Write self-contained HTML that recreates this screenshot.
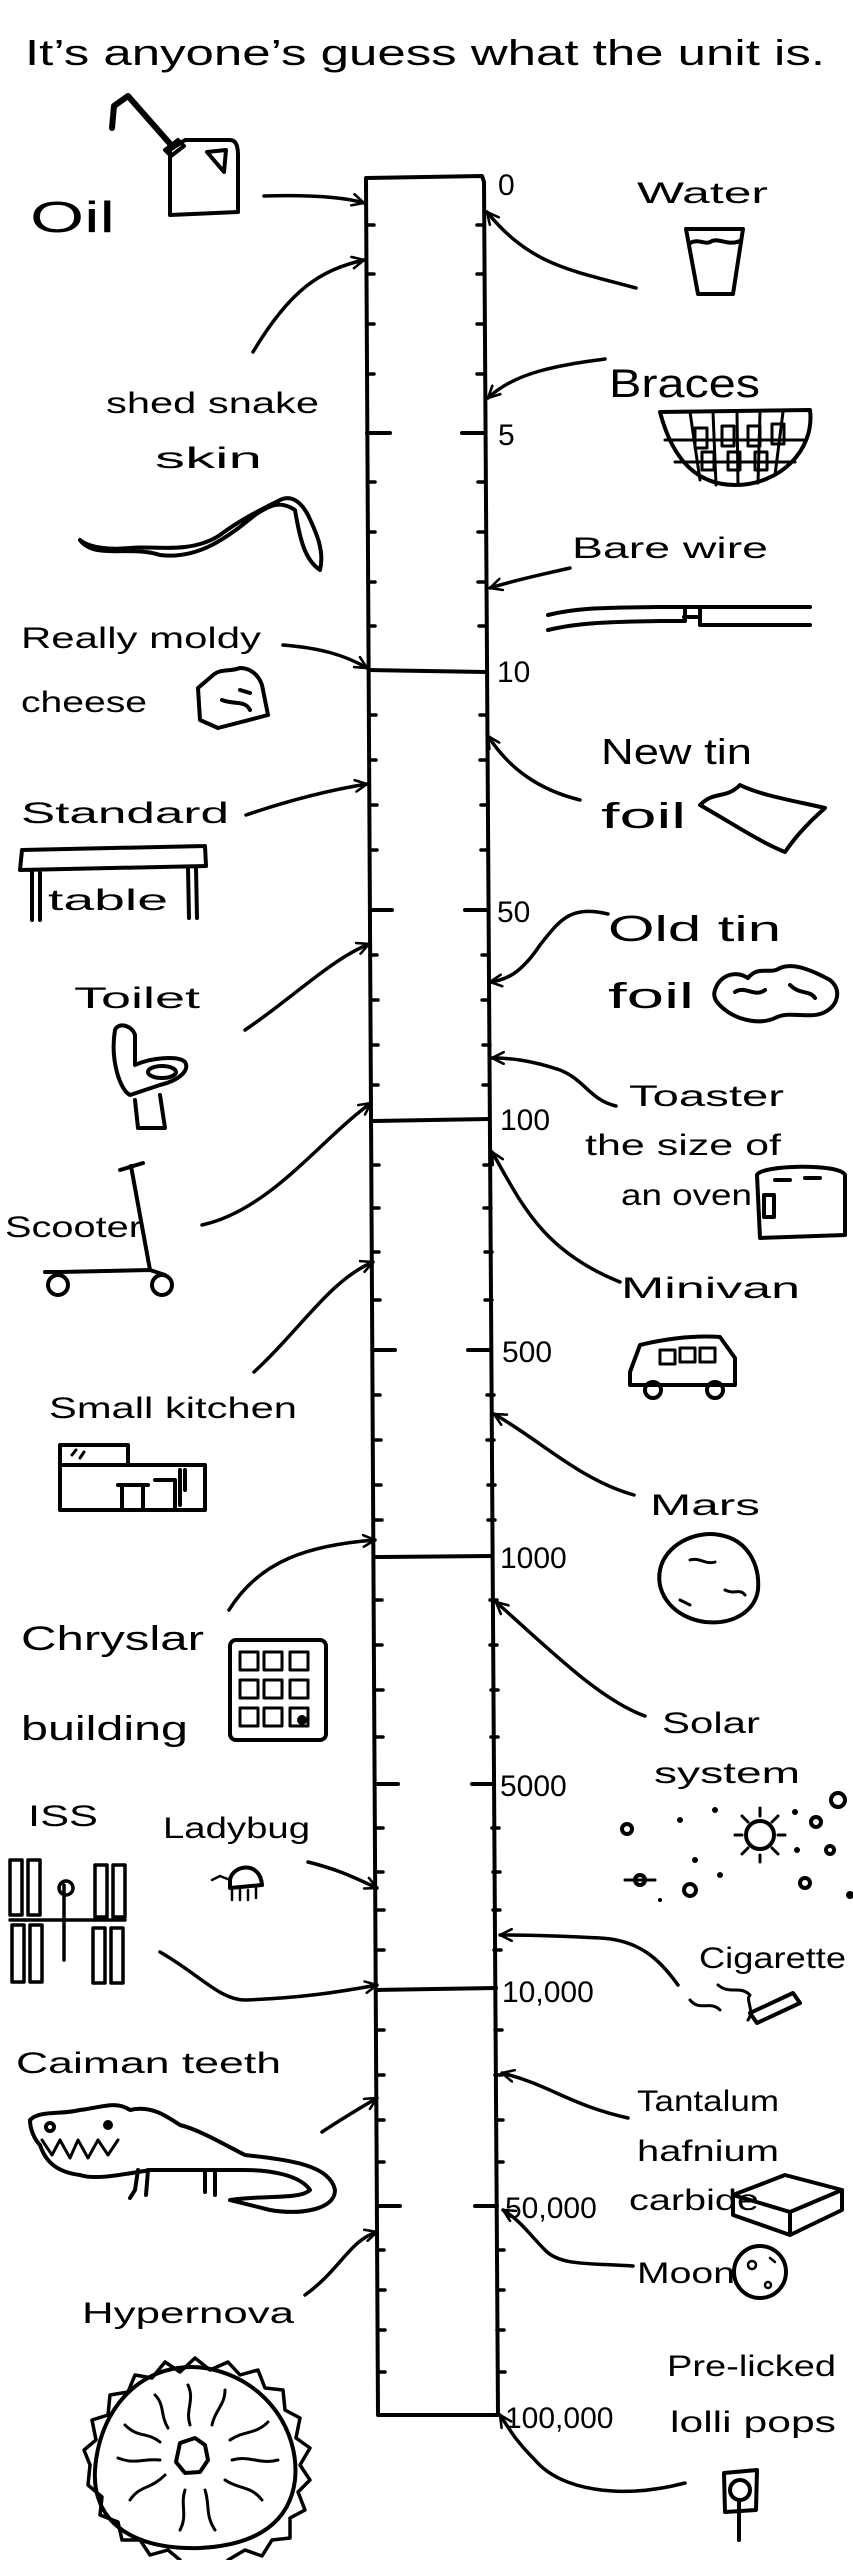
<!DOCTYPE html>
<html><head><meta charset="utf-8"><style>
html,body{margin:0;padding:0;background:#fff}
svg{display:block}
text{font-family:"Liberation Sans",sans-serif;fill:#000}
</style></head><body>
<svg width="853" height="2560" viewBox="0 0 853 2560" xmlns="http://www.w3.org/2000/svg">
<defs>
<marker id="a" viewBox="0 0 12 12" refX="11" refY="6" markerWidth="14" markerHeight="14" markerUnits="userSpaceOnUse" orient="auto">
<path d="M1,1 L11,6 L1,11" fill="none" stroke="#000" stroke-width="2.2" stroke-linecap="round"/>
</marker>
</defs>
<g fill="none" stroke="#000" stroke-width="4" stroke-linecap="round" stroke-linejoin="round">
<!-- ruler -->
<path d="M366,182 L366,178 L482,176 L484,182 L498,2415 L378,2415 Z"/>
<path d="M369,670 L486,672 M372,1121 L489,1119 M375,1557 L492,1556 M377,1990 L496,1988"/>
<path d="M367,433 L390,433 M462,433 L485,433 M370,910 L392,910 M465,910 L487,910 M373,1350 L395,1350 M468,1350 L491,1350 M376,1784 L398,1784 M472,1784 L494,1784 M377,2206 L400,2206 M475,2206 L497,2206"/>
<path stroke-width="3.5" d="
M367,225 L374,225 M477,225 L484,225
M367,274 L374,274 M477,274 L484,274
M367,324 L374,324 M477,324 L484,324
M367,374 L374,374 M477,374 L484,374
M368,482 L375,482 M478,482 L485,482
M368,532 L375,532 M478,532 L485,532
M368,582 L375,582 M478,582 L485,582
M368,626 L375,626 M479,626 L486,626
M369,715 L376,715 M480,715 L487,715
M369,760 L376,760 M480,760 L487,760
M370,805 L377,805 M481,805 L488,805
M370,850 L377,850 M481,850 L488,850
M370,955 L377,955 M482,955 L489,955
M371,1000 L378,1000 M482,1000 L489,1000
M371,1045 L378,1045 M483,1045 L490,1045
M371,1085 L378,1085 M483,1085 L490,1085
M372,1165 L379,1165 M484,1165 L491,1165
M372,1208 L379,1208 M484,1208 L491,1208
M372,1252 L379,1252 M485,1252 L492,1252
M373,1300 L380,1300 M485,1300 L492,1300
M373,1395 L380,1395 M487,1395 L494,1395
M374,1440 L381,1440 M487,1440 L494,1440
M374,1485 L381,1485 M488,1485 L495,1485
M375,1520 L382,1520 M488,1520 L495,1520
M375,1600 L382,1600 M490,1600 L497,1600
M375,1645 L382,1645 M490,1645 L497,1645
M376,1690 L383,1690 M491,1690 L498,1690
M376,1737 L383,1737 M491,1737 L498,1737
M376,1828 L383,1828 M492,1828 L499,1828
M376,1872 L383,1872 M493,1872 L500,1872
M377,1910 L384,1910 M493,1910 L500,1910
M377,1950 L384,1950 M494,1950 L501,1950
M377,2030 L384,2030 M495,2030 L502,2030
M377,2075 L384,2075 M495,2075 L502,2075
M377,2120 L384,2120 M496,2120 L503,2120
M377,2162 L384,2162 M496,2162 L503,2162
M377,2250 L384,2250 M497,2250 L504,2250
M378,2290 L385,2290 M497,2290 L504,2290
M378,2330 L385,2330 M497,2330 L504,2330
M378,2372 L385,2372 M498,2372 L505,2372"/>

<!-- arrows left -->
<g marker-end="url(#a)" stroke-width="3.5">
<path d="M264,196 C300,195 340,196 364,203"/>
<path d="M253,352 C290,290 320,270 364,260"/>
<path d="M283,645 C320,648 345,655 367,668"/>
<path d="M246,815 C290,800 330,790 367,784"/>
<path d="M245,1030 C290,1000 330,960 369,944"/>
<path d="M202,1225 C270,1210 320,1140 371,1103"/>
<path d="M254,1372 C300,1330 330,1280 373,1262"/>
<path d="M229,1610 C260,1560 310,1545 375,1540"/>
<path d="M160,1952 C200,1975 220,2000 245,2000 C300,1998 340,1992 377,1985"/>
<path d="M308,1862 C340,1870 355,1878 377,1888"/>
<path d="M322,2132 C340,2120 360,2108 377,2098"/>
<path d="M305,2295 C340,2270 350,2240 377,2232"/>
</g>
<!-- arrows right -->
<g marker-end="url(#a)" stroke-width="3.5">
<path d="M636,288 C570,270 530,265 487,212"/>
<path d="M605,359 C560,365 515,372 488,398"/>
<path d="M570,568 C540,575 515,580 490,588"/>
<path d="M580,800 C540,790 510,770 488,736"/>
<path d="M608,914 C570,905 560,920 540,945 C520,975 505,980 490,982"/>
<path d="M616,1106 C590,1100 585,1080 560,1070 C530,1060 510,1058 492,1058"/>
<path d="M620,1282 C540,1250 520,1200 492,1152"/>
<path d="M634,1495 C580,1480 540,1440 494,1414"/>
<path d="M645,1716 C600,1700 550,1650 496,1602"/>
<path d="M678,1985 C660,1960 640,1940 600,1938 C560,1936 530,1935 500,1935"/>
<path d="M628,2118 C570,2105 550,2085 502,2073"/>
<path d="M633,2266 C590,2263 560,2266 545,2250 C530,2235 520,2220 503,2210"/>
<path d="M685,2483 C620,2500 560,2490 535,2460 C515,2440 510,2430 500,2415"/>
</g>

<!-- oil can -->
<path d="M170,150 L185,140 L230,140 C237,140 238,148 238,155 L238,212 L170,215 Z"/>
<path d="M207,152 L226,150 L224,172 Z"/>
<path d="M172,146 L128,96 L114,106 L112,128" stroke-width="6"/>
<path d="M165,150 L178,140 L184,146 L171,156 Z"/>

<!-- water glass -->
<path d="M686,229 L743,229 L733,294 L698,294 Z"/>
<path d="M690,243 C700,238 705,246 712,241 C720,238 728,246 740,241"/>

<!-- braces -->
<path d="M660,412 L810,410 C815,450 780,485 735,485 C690,485 670,450 660,412 Z"/>
<path d="M665,440 L805,440 M675,462 L795,462 M690,412 L700,480 M713,412 L716,485 M737,412 L738,485 M760,412 L758,483 M783,412 L775,475" stroke-width="3"/>
<path d="M695,428 h12 v20 h-12z M722,426 h12 v20 h-12z M748,426 h12 v20 h-12z M772,424 h12 v20 h-12z M702,452 h12 v18 h-12z M728,452 h12 v18 h-12z M755,452 h12 v18 h-12z" stroke-width="3"/>

<!-- bare wire -->
<path d="M548,615 C580,607 610,608 655,607 L810,607 M548,630 C580,622 615,622 660,621 L685,621 M685,607 L685,621 M684,617 L700,617 L700,625 L810,625 M700,610 L700,625"/>

<!-- snake skin -->
<path d="M80,540 C95,560 130,545 160,555 C200,560 230,535 255,515 C270,505 280,500 295,510 C300,540 305,560 320,570 C325,550 315,530 308,515 C300,500 290,495 280,500 C260,510 240,520 220,535 C190,555 150,545 130,548 C110,550 90,548 80,540"/>

<!-- cheese -->
<path d="M198,688 L212,676 C220,668 230,672 240,668 C250,668 258,674 262,685 L268,715 L218,728 L200,720 Z"/>
<path d="M222,700 C235,705 245,700 250,710 M240,690 L250,693"/>

<!-- table -->
<path d="M22,850 L205,846 M22,850 L20,870 M205,846 L206,866 M20,870 L206,866 M32,870 L32,920 M40,870 L40,920 M188,868 L189,918 M196,868 L197,918"/>

<!-- foils -->
<path d="M700,805 C715,790 725,800 740,785 C760,795 790,800 825,808 C800,830 790,845 785,852 C760,842 735,825 700,805 Z"/>
<path d="M715,990 C720,975 735,970 748,978 C758,965 770,975 780,968 C795,962 815,972 830,980 C842,990 838,1005 825,1012 C810,1020 790,1010 775,1018 C760,1025 740,1020 728,1012 C718,1005 712,998 715,990 Z"/>
<path d="M735,992 C745,985 755,998 765,990 M790,985 C800,995 810,990 815,998"/>

<!-- toilet -->
<path d="M115,1030 C110,1060 120,1090 130,1095 L160,1085 C180,1080 190,1070 185,1062 C178,1055 150,1058 135,1065 L135,1035 C132,1025 118,1022 115,1030 Z"/>
<ellipse cx="162" cy="1072" rx="14" ry="6"/>
<path d="M135,1100 L138,1128 L165,1128 L160,1095"/>

<!-- scooter -->
<path d="M120,1170 L143,1163 M131,1166 L150,1270 L60,1272 L45,1272 M150,1270 L165,1275"/>
<circle cx="58" cy="1285" r="10"/><circle cx="162" cy="1285" r="10"/>

<!-- kitchen -->
<path d="M60,1445 L60,1510 L205,1510 L205,1465 L60,1465 M60,1445 L128,1445 L128,1465 M118,1485 L148,1485 M122,1485 L122,1510 M143,1485 L143,1510 M155,1480 L175,1480 L175,1510 M180,1470 L180,1505 M185,1470 L185,1490"/>
<path d="M72,1455 L76,1450 M80,1458 L84,1452" stroke-width="3"/>

<!-- chrysler -->
<rect x="230" y="1640" width="96" height="100" rx="6"/>
<path d="M240,1652 h18 v18 h-18z M264,1652 h18 v18 h-18z M290,1652 h18 v18 h-18z M240,1680 h18 v18 h-18z M264,1680 h18 v18 h-18z M290,1680 h18 v18 h-18z M240,1708 h18 v18 h-18z M264,1708 h18 v18 h-18z M290,1708 h18 v18 h-18z" stroke-width="3"/>
<circle cx="302" cy="1720" r="3" fill="#000"/>

<!-- mars -->
<path d="M660,1570 C665,1545 695,1530 720,1535 C748,1540 760,1565 758,1590 C755,1610 735,1625 705,1622 C675,1618 655,1595 660,1570 Z"/>
<path d="M690,1560 C700,1557 705,1565 715,1562 M725,1590 C735,1595 740,1588 745,1595 M680,1600 L690,1605" stroke-width="3"/>

<!-- minivan -->
<path d="M630,1372 L640,1345 C660,1340 690,1335 720,1337 L735,1358 L735,1385 L630,1385 Z"/>
<path d="M660,1350 h15 v14 h-15z M680,1348 h15 v14 h-15z M700,1348 h15 v14 h-15z" stroke-width="3"/>
<circle cx="653" cy="1390" r="8"/><circle cx="715" cy="1390" r="8"/>

<!-- toaster -->
<path d="M757,1175 C760,1165 840,1163 845,1175 L845,1235 L760,1238 Z M775,1180 L790,1180 M805,1178 L820,1178"/>
<rect x="764" y="1195" width="10" height="22"/>

<!-- solar system -->
<circle cx="760" cy="1835" r="14"/>
<path d="M760,1808 L760,1816 M742,1816 L748,1822 M778,1816 L772,1822 M735,1835 L742,1835 M778,1835 L785,1835 M742,1854 L748,1848 M778,1854 L772,1848 M760,1855 L760,1862" stroke-width="3"/>
<circle cx="627" cy="1829" r="5"/><circle cx="640" cy="1880" r="5"/><path d="M625,1880 L655,1880" stroke-width="3"/>
<circle cx="690" cy="1890" r="6"/><circle cx="816" cy="1822" r="5"/><circle cx="805" cy="1883" r="5"/>
<circle cx="838" cy="1800" r="7"/><circle cx="830" cy="1850" r="4"/>
<g fill="#000" stroke="none"><circle cx="680" cy="1820" r="3"/><circle cx="715" cy="1810" r="3"/><circle cx="795" cy="1812" r="3"/><circle cx="797" cy="1850" r="3"/><circle cx="695" cy="1860" r="3"/><circle cx="850" cy="1895" r="4"/><circle cx="660" cy="1900" r="2"/><circle cx="720" cy="1875" r="3"/></g>

<!-- ISS -->
<g stroke-width="3.5">
<rect x="10" y="1860" width="12" height="55"/><rect x="28" y="1860" width="12" height="55"/>
<rect x="95" y="1865" width="12" height="52"/><rect x="113" y="1865" width="12" height="52"/>
<rect x="12" y="1925" width="12" height="57"/><rect x="30" y="1925" width="12" height="57"/>
<rect x="93" y="1928" width="12" height="55"/><rect x="111" y="1928" width="12" height="55"/>
<path d="M10,1920 L125,1920 M64,1885 L64,1960"/><circle cx="66" cy="1888" r="7"/>
</g>

<!-- ladybug -->
<path d="M230,1880 C232,1865 260,1860 262,1885 L230,1888 Z"/>
<path d="M230,1880 L220,1876 L212,1880 M232,1890 L232,1900 M240,1890 L240,1900 M248,1890 L248,1900 M256,1888 L256,1898" stroke-width="2.5"/>

<!-- cigarette -->
<path d="M750,2013 L793,1993 L800,2003 L757,2023 Z"/>
<path d="M718,1985 C730,1995 740,1985 750,1995 C745,2000 755,2010 748,2020 M690,2000 C700,2012 710,2000 720,2010" stroke-width="3"/>

<!-- caiman -->
<path d="M30,2120 C40,2110 60,2115 80,2110 C100,2108 115,2100 130,2110 C150,2105 165,2115 180,2125 C200,2130 225,2145 245,2155 C290,2160 330,2165 335,2190 C335,2210 300,2215 270,2210 L230,2200 C260,2195 300,2200 310,2190 C300,2175 270,2170 245,2170 L205,2170 L150,2170 C120,2175 95,2180 80,2175 C55,2172 45,2160 40,2145 C35,2140 30,2130 30,2120 Z"/>
<path d="M42,2140 L52,2155 L60,2140 L70,2158 L78,2140 L88,2158 L98,2140 L108,2155 L118,2140" stroke-width="3"/>
<path d="M138,2170 L135,2190 L130,2198 M148,2170 L146,2195 M205,2170 L205,2192 M215,2170 L215,2195"/>
<circle cx="50" cy="2127" r="4"/><circle cx="108" cy="2125" r="3" fill="#000"/>

<!-- tantalum box -->
<path d="M733,2195 L785,2175 L842,2190 L790,2212 Z M733,2195 L733,2215 L790,2235 L842,2210 L842,2190 M790,2212 L790,2235"/>

<!-- moon -->
<circle cx="760" cy="2272" r="26"/>
<circle cx="752" cy="2265" r="4" stroke-width="2.5"/><circle cx="768" cy="2285" r="3" stroke-width="2.5"/><path d="M770,2258 L775,2262" stroke-width="2.5"/>

<!-- lollipop -->
<path d="M724,2473 L757,2470 L756,2510 L725,2512 Z"/>
<circle cx="740" cy="2490" r="10"/>
<path d="M739,2500 L739,2540"/>

<!-- hypernova -->
<path d="M95,2470 C100,2400 150,2360 205,2368 C265,2378 300,2430 295,2480 C290,2520 260,2545 200,2548 C130,2550 92,2520 95,2470 Z"/>
<path d="M90,2465 L84,2450 L96,2440 L92,2420 L108,2415 L110,2395 L128,2392 L135,2375 L152,2378 L165,2362 L180,2372 L195,2358 L210,2370 L228,2362 L240,2375 L258,2370 L265,2388 L283,2390 L285,2410 L300,2418 L296,2438 L310,2448 L300,2465 L310,2480 L298,2492 L305,2510 L290,2518 L290,2538 L272,2540 L262,2556 L245,2550 L228,2560 M180,2560 L168,2550 L150,2555 L140,2540 L122,2540 L118,2522 L100,2515 L102,2497 L88,2485 L90,2465" stroke-width="3.5"/>
<path d="M180,2443 L195,2438 L205,2445 L208,2460 L200,2472 L185,2473 L176,2462 Z"/>
<path d="M190,2425 C185,2410 195,2400 188,2385 M168,2428 C160,2415 165,2405 155,2395 M212,2425 C215,2410 225,2405 225,2390 M230,2440 C245,2430 255,2435 268,2422 M232,2460 C250,2455 260,2465 278,2460 M225,2480 C240,2490 250,2485 262,2500 M205,2490 C210,2505 205,2515 215,2530 M185,2490 C180,2505 188,2515 180,2530 M165,2475 C150,2490 140,2485 130,2500 M160,2460 C145,2458 135,2465 118,2458 M160,2442 C148,2432 138,2438 125,2425" stroke-width="3"/>
</g>

<!-- text -->
<text x="25" y="65" font-size="36" textLength="800" lengthAdjust="spacingAndGlyphs">It’s anyone’s guess what the unit is.</text>
<g font-size="30">
<text x="30" y="232" font-size="44" textLength="85" lengthAdjust="spacingAndGlyphs">Oil</text>
<text x="106" y="413" textLength="213" lengthAdjust="spacingAndGlyphs">shed snake</text>
<text x="155" y="468" textLength="107" lengthAdjust="spacingAndGlyphs">skin</text>
<text x="21" y="648" textLength="240" lengthAdjust="spacingAndGlyphs">Really moldy</text>
<text x="21" y="712" textLength="126" lengthAdjust="spacingAndGlyphs">cheese</text>
<text x="21" y="823" textLength="208" lengthAdjust="spacingAndGlyphs">Standard</text>
<text x="48" y="910" textLength="120" lengthAdjust="spacingAndGlyphs">table</text>
<text x="74" y="1008" textLength="126" lengthAdjust="spacingAndGlyphs">Toilet</text>
<text x="5" y="1237" textLength="137" lengthAdjust="spacingAndGlyphs">Scooter</text>
<text x="49" y="1418" textLength="248" lengthAdjust="spacingAndGlyphs">Small kitchen</text>
<text x="21" y="1650" font-size="34" textLength="183" lengthAdjust="spacingAndGlyphs">Chryslar</text>
<text x="21" y="1740" font-size="34" textLength="167" lengthAdjust="spacingAndGlyphs">building</text>
<text x="28" y="1826" textLength="70" lengthAdjust="spacingAndGlyphs">ISS</text>
<text x="163" y="1838" textLength="147" lengthAdjust="spacingAndGlyphs">Ladybug</text>
<text x="16" y="2073" textLength="265" lengthAdjust="spacingAndGlyphs">Caiman teeth</text>
<text x="82" y="2323" textLength="212" lengthAdjust="spacingAndGlyphs">Hypernova</text>

<text x="498" y="195">0</text>
<text x="498" y="445">5</text>
<text x="497" y="682">10</text>
<text x="497" y="922">50</text>
<text x="500" y="1130">100</text>
<text x="502" y="1362">500</text>
<text x="500" y="1568">1000</text>
<text x="500" y="1796">5000</text>
<text x="502" y="2002">10,000</text>
<text x="505" y="2218">50,000</text>
<text x="505" y="2428">100,000</text>

<text x="637" y="203" textLength="131" lengthAdjust="spacingAndGlyphs">Water</text>
<text x="609" y="397" font-size="40" textLength="151" lengthAdjust="spacingAndGlyphs">Braces</text>
<text x="572" y="558" textLength="196" lengthAdjust="spacingAndGlyphs">Bare wire</text>
<text x="601" y="764" font-size="36" textLength="151" lengthAdjust="spacingAndGlyphs">New tin</text>
<text x="601" y="828" font-size="36" textLength="85" lengthAdjust="spacingAndGlyphs">foil</text>
<text x="608" y="941" font-size="36" textLength="173" lengthAdjust="spacingAndGlyphs">Old tin</text>
<text x="608" y="1008" font-size="36" textLength="86" lengthAdjust="spacingAndGlyphs">foil</text>
<text x="629" y="1106" textLength="155" lengthAdjust="spacingAndGlyphs">Toaster</text>
<text x="585" y="1155" textLength="196" lengthAdjust="spacingAndGlyphs">the size of</text>
<text x="621" y="1205" textLength="131" lengthAdjust="spacingAndGlyphs">an oven</text>
<text x="621" y="1298" textLength="179" lengthAdjust="spacingAndGlyphs">Minivan</text>
<text x="650" y="1515" textLength="110" lengthAdjust="spacingAndGlyphs">Mars</text>
<text x="662" y="1733" textLength="98" lengthAdjust="spacingAndGlyphs">Solar</text>
<text x="654" y="1783" textLength="146" lengthAdjust="spacingAndGlyphs">system</text>
<text x="699" y="1968" textLength="147" lengthAdjust="spacingAndGlyphs">Cigarette</text>
<text x="637" y="2111" textLength="142" lengthAdjust="spacingAndGlyphs">Tantalum</text>
<text x="637" y="2161" textLength="142" lengthAdjust="spacingAndGlyphs">hafnium</text>
<text x="629" y="2210" textLength="130" lengthAdjust="spacingAndGlyphs">carbide</text>
<text x="637" y="2283" textLength="98" lengthAdjust="spacingAndGlyphs">Moon</text>
<text x="667" y="2376" textLength="169" lengthAdjust="spacingAndGlyphs">Pre-licked</text>
<text x="670" y="2432" textLength="166" lengthAdjust="spacingAndGlyphs">lolli pops</text>
</g>
</svg>
</body></html>
